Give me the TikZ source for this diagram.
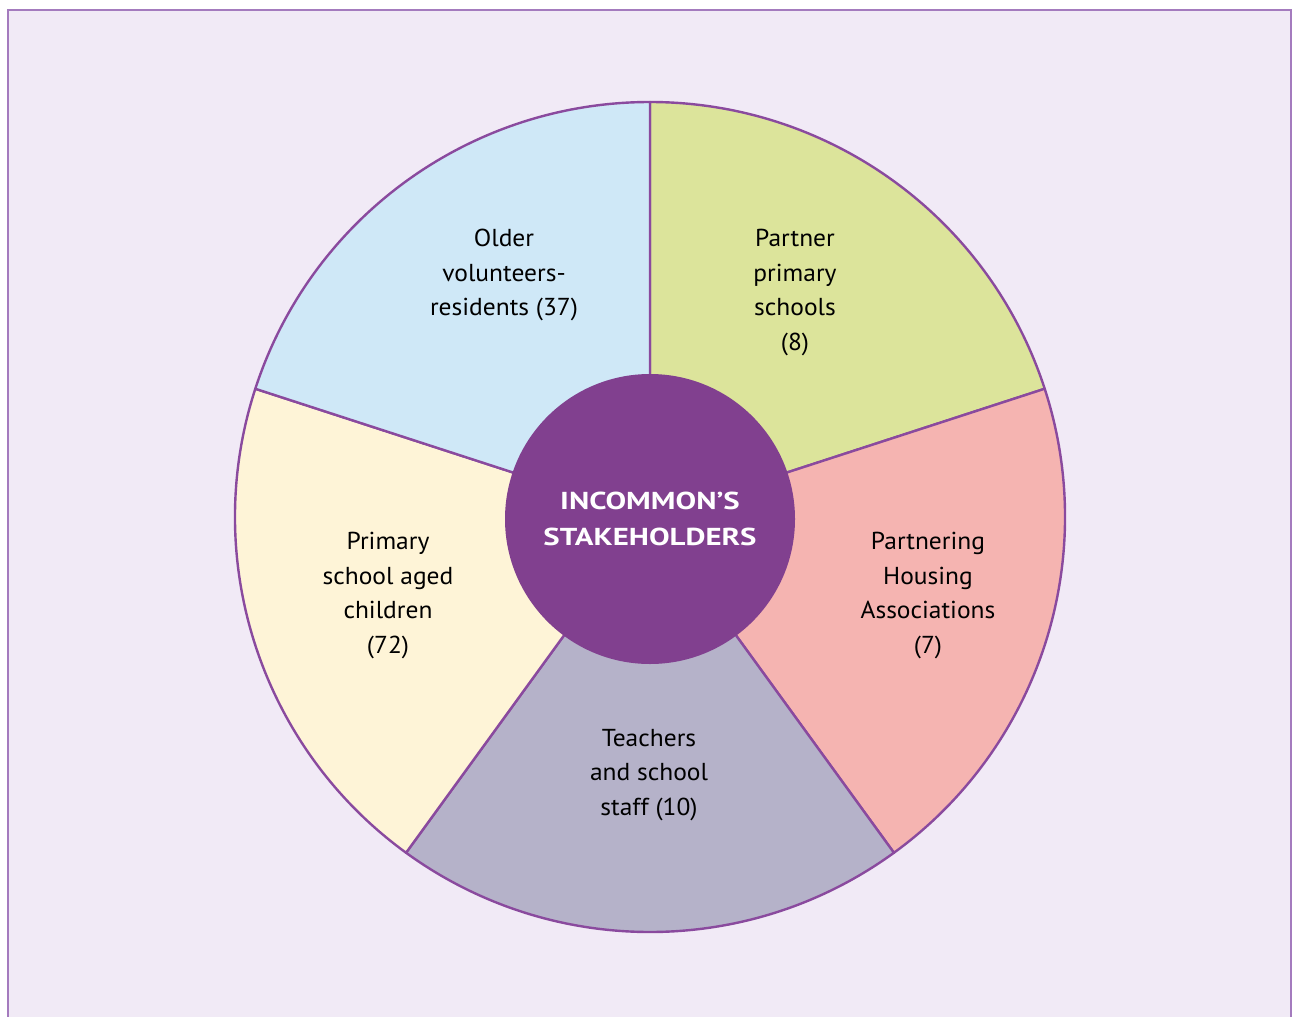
\documentclass[tikz,border=0pt]{standalone}
\usepackage{fontspec}
\setmainfont{PT Sans}
\newfontfamily\labelfont[FakeStretch=1.04]{PT Sans}
\newfontfamily\hubfont[FakeStretch=1.26]{PT Sans}
\begin{document}
\begin{tikzpicture}[x=1pt,y=1pt,
  seg/.style={draw=segline,line width=2.4pt,line join=round},
  lbl/.style={align=center,font=\labelfont\fontsize{24.5}{34.5}\selectfont,text=black},
  hub/.style={circle,fill=hubfill,minimum size=290pt,inner sep=0pt,
    text=white,align=center,font=\hubfont\fontsize{24.5}{36.5}\selectfont\bfseries}]
\definecolor{pagebg}{HTML}{F1EAF6}
\definecolor{framec}{HTML}{A47BBE}
\definecolor{segline}{HTML}{8A4A9E}
\definecolor{hubfill}{HTML}{81408F}
\definecolor{cblue}{HTML}{CFE8F7}
\definecolor{cgreen}{HTML}{DCE49B}
\definecolor{cpink}{HTML}{F5B4B1}
\definecolor{cgrey}{HTML}{B5B2C9}
\definecolor{ccream}{HTML}{FEF4D7}
\useasboundingbox (0,0) rectangle (1293,-1017);
\fill[white] (0,0) rectangle (1293,-1017);
% framed panel, open at the bottom
\fill[pagebg] (8,-10) rectangle (1291,-1017);
\draw[framec,line width=2pt] (8,-1017) -- (8,-10) -- (1291,-10) -- (1291,-1017);
% five wedges of the ring
\coordinate (c) at (650,-517);
\def\R{415}
\filldraw[seg,fill=cgreen] (c) -- ++(90:\R) arc[start angle=90,end angle=18,radius=\R] -- cycle;
\filldraw[seg,fill=cpink]  (c) -- ++(18:\R) arc[start angle=18,end angle=-54,radius=\R] -- cycle;
\filldraw[seg,fill=cgrey]  (c) -- ++(-54:\R) arc[start angle=-54,end angle=-126,radius=\R] -- cycle;
\filldraw[seg,fill=ccream] (c) -- ++(-126:\R) arc[start angle=-126,end angle=-198,radius=\R] -- cycle;
\filldraw[seg,fill=cblue]  (c) -- ++(162:\R) arc[start angle=162,end angle=90,radius=\R] -- cycle;
% hub
\node[hub] (hub) at (650,-519) {INCOMMON’S\\STAKEHOLDERS};
% wedge labels
\node[lbl] (older)   at (504,-275) {Older\\volunteers-\\residents (37)};
\node[lbl] (partner) at (795,-292.5) {Partner\\primary\\schools\\(8)};
\node[lbl] (housing) at (928,-595.5) {Partnering\\Housing\\Associations\\(7)};
\node[lbl] (teach)   at (649,-775) {Teachers\\and school\\staff (10)};
\node[lbl] (kids)    at (388,-595.5) {Primary\\school aged\\children\\(72)};
\end{tikzpicture}
\end{document}
